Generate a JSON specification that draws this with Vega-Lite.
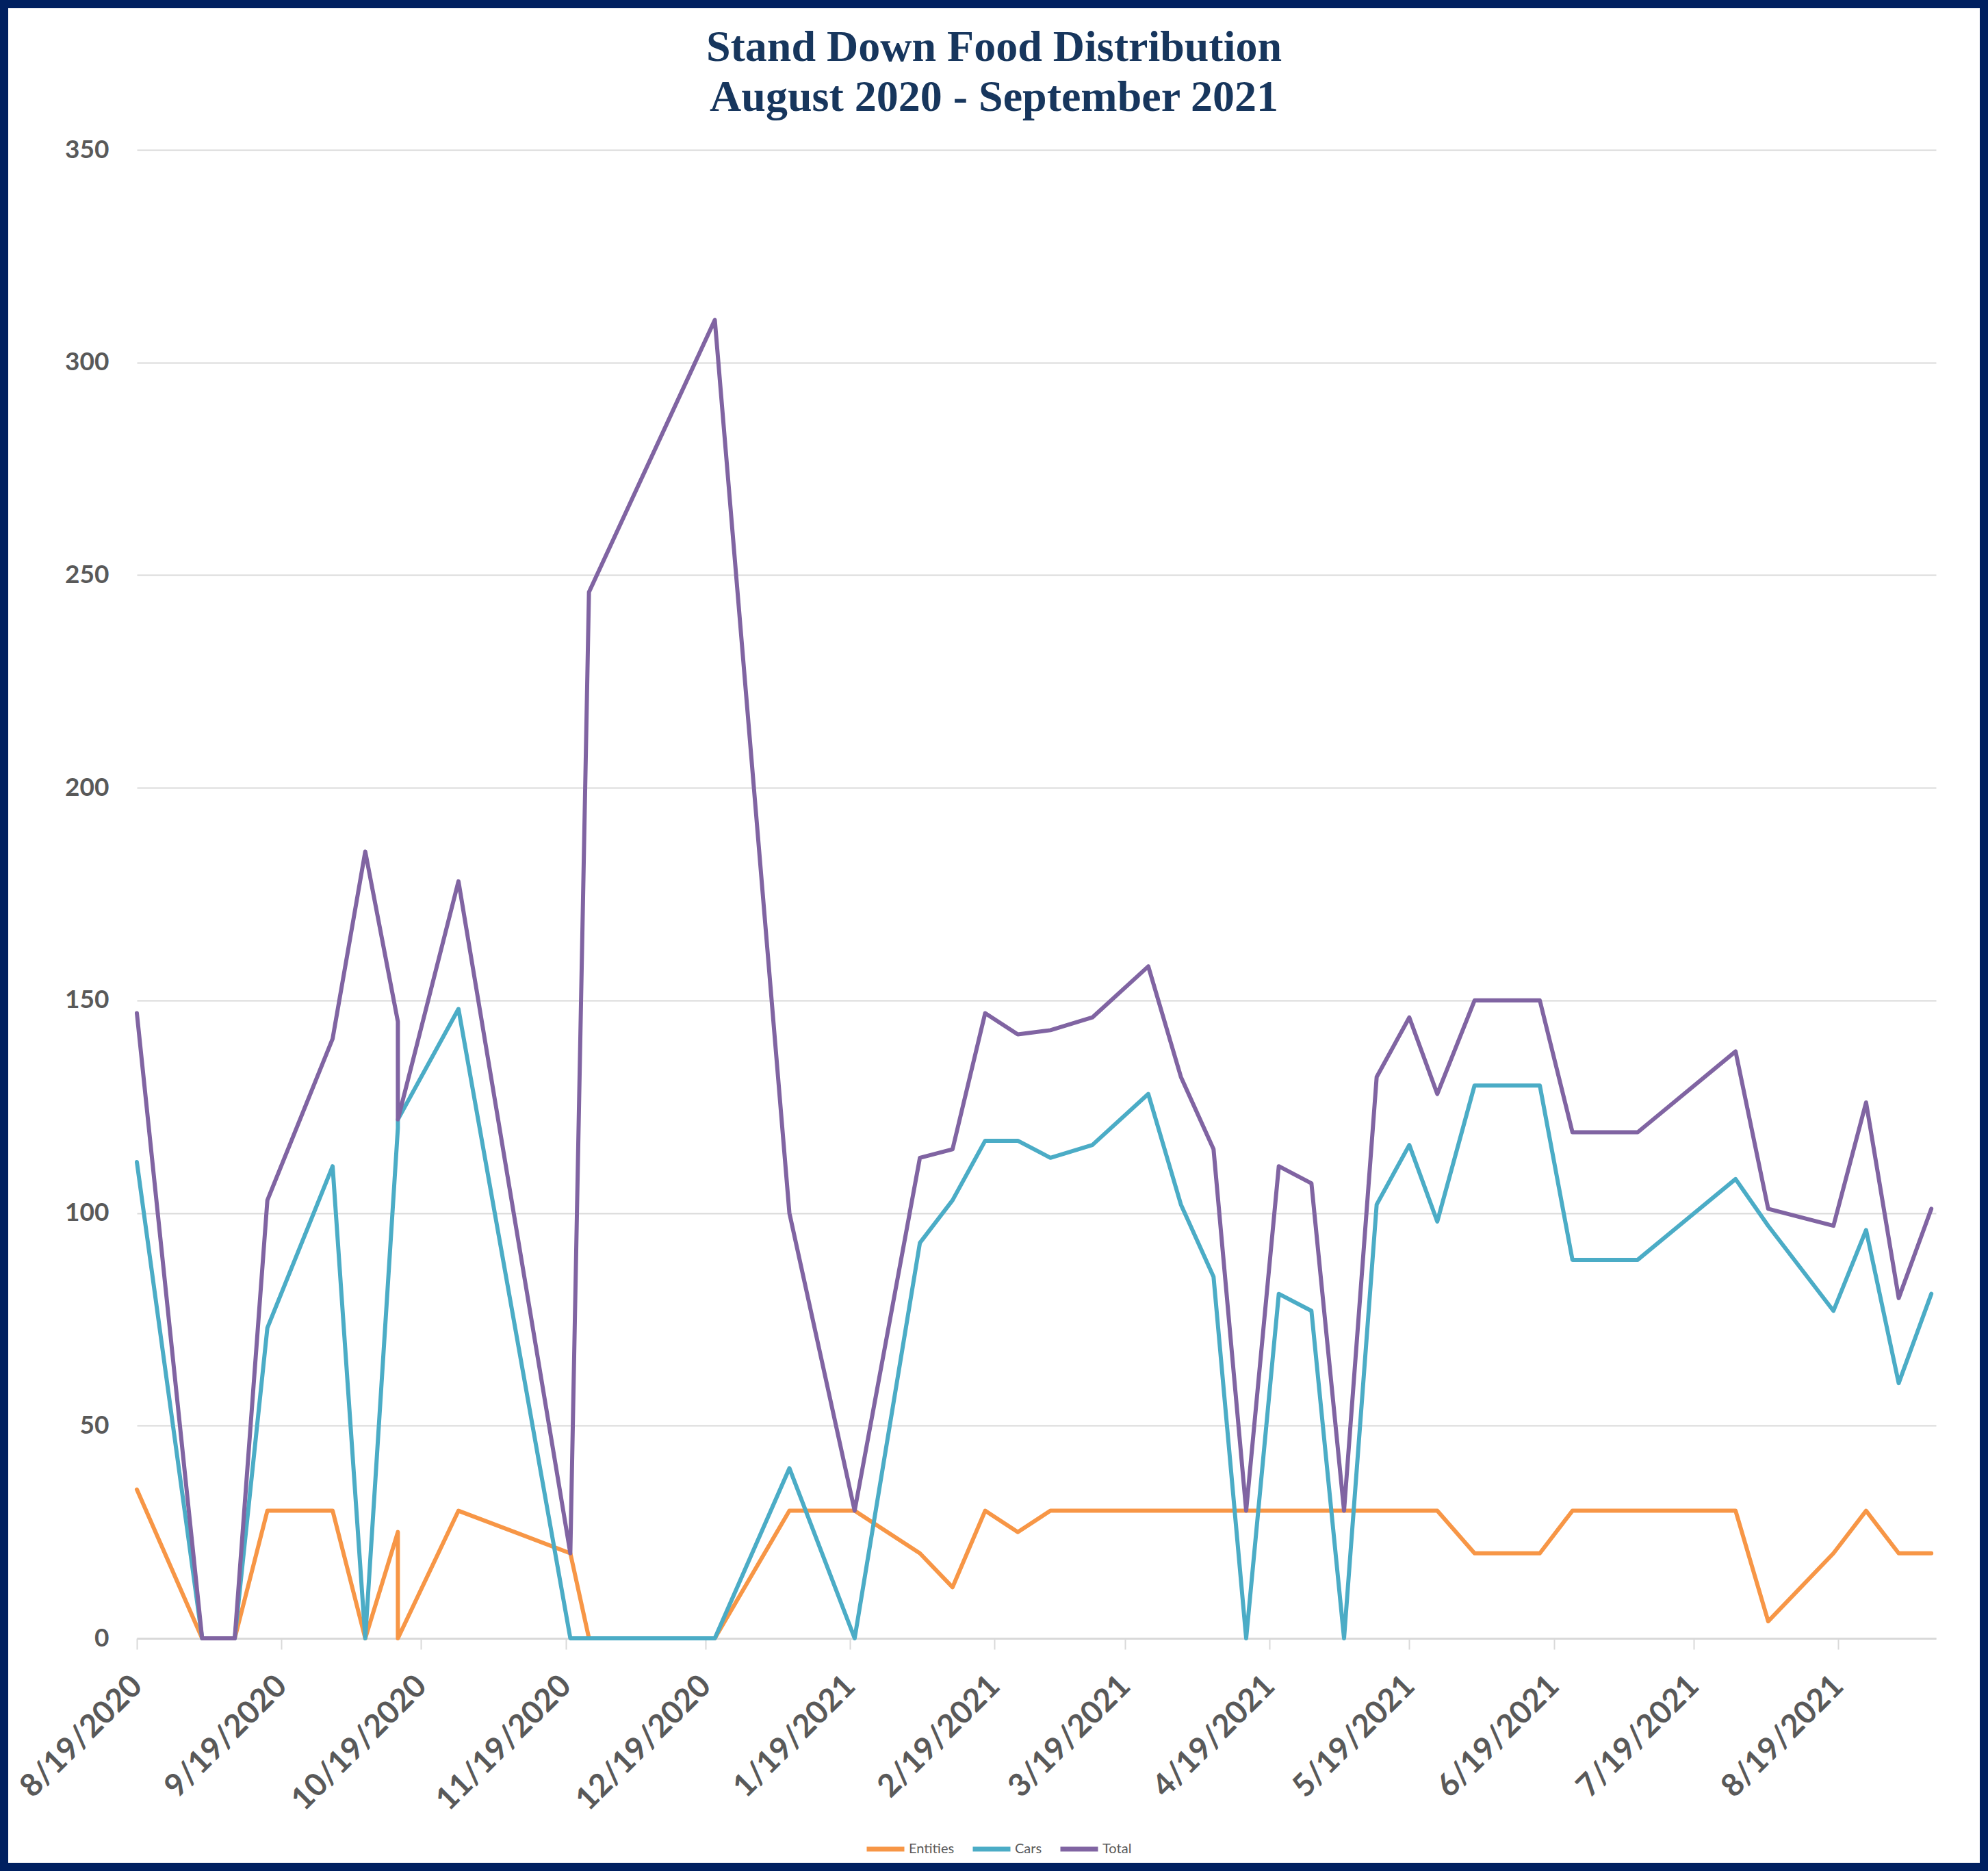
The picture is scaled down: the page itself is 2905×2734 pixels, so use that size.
{
  "$schema": "https://vega.github.io/schema/vega-lite/v6.json",
  "width": 2905,
  "height": 2734,
  "autosize": {"type": "none"},
  "padding": 0,
  "background": "white",
  "title": {
    "text": ["Stand Down Food Distribution", "August 2020 - September 2021"],
    "font": "Liberation Serif",
    "fontSize": 64,
    "fontWeight": "bold",
    "color": "#17365D",
    "lineHeight": 73,
    "anchor": "middle",
    "frame": "group",
    "orient": "top",
    "offset": -175
  },
  "config": {
    "view": {"stroke": "#002060", "strokeWidth": 24, "fill": "white"}
  },
  "data": {
    "values": [
      {"i":1,"d":"2020-08-19","s":"Entities","v":35},{"i":1,"d":"2020-08-19","s":"Cars","v":112},{"i":1,"d":"2020-08-19","s":"Total","v":147},
      {"i":2,"d":"2020-09-02","s":"Entities","v":0},{"i":2,"d":"2020-09-02","s":"Cars","v":0},{"i":2,"d":"2020-09-02","s":"Total","v":0},
      {"i":3,"d":"2020-09-09","s":"Entities","v":0},{"i":3,"d":"2020-09-09","s":"Cars","v":0},{"i":3,"d":"2020-09-09","s":"Total","v":0},
      {"i":4,"d":"2020-09-16","s":"Entities","v":30},{"i":4,"d":"2020-09-16","s":"Cars","v":73},{"i":4,"d":"2020-09-16","s":"Total","v":103},
      {"i":5,"d":"2020-09-30","s":"Entities","v":30},{"i":5,"d":"2020-09-30","s":"Cars","v":111},{"i":5,"d":"2020-09-30","s":"Total","v":141},
      {"i":6,"d":"2020-10-07","s":"Entities","v":0},{"i":6,"d":"2020-10-07","s":"Cars","v":0},{"i":6,"d":"2020-10-07","s":"Total","v":185},
      {"i":7,"d":"2020-10-14","s":"Entities","v":25},{"i":7,"d":"2020-10-14","s":"Cars","v":120},{"i":7,"d":"2020-10-14","s":"Total","v":145},
      {"i":8,"d":"2020-10-14","s":"Entities","v":0},{"i":8,"d":"2020-10-14","s":"Cars","v":122},{"i":8,"d":"2020-10-14","s":"Total","v":122},
      {"i":9,"d":"2020-10-27","s":"Entities","v":30},{"i":9,"d":"2020-10-27","s":"Cars","v":148},{"i":9,"d":"2020-10-27","s":"Total","v":178},
      {"i":10,"d":"2020-11-20","s":"Entities","v":20},{"i":10,"d":"2020-11-20","s":"Cars","v":0},{"i":10,"d":"2020-11-20","s":"Total","v":20},
      {"i":11,"d":"2020-11-24","s":"Entities","v":0},{"i":11,"d":"2020-11-24","s":"Cars","v":0},{"i":11,"d":"2020-11-24","s":"Total","v":246},
      {"i":12,"d":"2020-12-21","s":"Entities","v":0},{"i":12,"d":"2020-12-21","s":"Cars","v":0},{"i":12,"d":"2020-12-21","s":"Total","v":310},
      {"i":13,"d":"2021-01-06","s":"Entities","v":30},{"i":13,"d":"2021-01-06","s":"Cars","v":40},{"i":13,"d":"2021-01-06","s":"Total","v":100},
      {"i":14,"d":"2021-01-20","s":"Entities","v":30},{"i":14,"d":"2021-01-20","s":"Cars","v":0},{"i":14,"d":"2021-01-20","s":"Total","v":30},
      {"i":15,"d":"2021-02-03","s":"Entities","v":20},{"i":15,"d":"2021-02-03","s":"Cars","v":93},{"i":15,"d":"2021-02-03","s":"Total","v":113},
      {"i":16,"d":"2021-02-10","s":"Entities","v":12},{"i":16,"d":"2021-02-10","s":"Cars","v":103},{"i":16,"d":"2021-02-10","s":"Total","v":115},
      {"i":17,"d":"2021-02-17","s":"Entities","v":30},{"i":17,"d":"2021-02-17","s":"Cars","v":117},{"i":17,"d":"2021-02-17","s":"Total","v":147},
      {"i":18,"d":"2021-02-24","s":"Entities","v":25},{"i":18,"d":"2021-02-24","s":"Cars","v":117},{"i":18,"d":"2021-02-24","s":"Total","v":142},
      {"i":19,"d":"2021-03-03","s":"Entities","v":30},{"i":19,"d":"2021-03-03","s":"Cars","v":113},{"i":19,"d":"2021-03-03","s":"Total","v":143},
      {"i":20,"d":"2021-03-12","s":"Entities","v":30},{"i":20,"d":"2021-03-12","s":"Cars","v":116},{"i":20,"d":"2021-03-12","s":"Total","v":146},
      {"i":21,"d":"2021-03-24","s":"Entities","v":30},{"i":21,"d":"2021-03-24","s":"Cars","v":128},{"i":21,"d":"2021-03-24","s":"Total","v":158},
      {"i":22,"d":"2021-03-31","s":"Entities","v":30},{"i":22,"d":"2021-03-31","s":"Cars","v":102},{"i":22,"d":"2021-03-31","s":"Total","v":132},
      {"i":23,"d":"2021-04-07","s":"Entities","v":30},{"i":23,"d":"2021-04-07","s":"Cars","v":85},{"i":23,"d":"2021-04-07","s":"Total","v":115},
      {"i":24,"d":"2021-04-14","s":"Entities","v":30},{"i":24,"d":"2021-04-14","s":"Cars","v":0},{"i":24,"d":"2021-04-14","s":"Total","v":30},
      {"i":25,"d":"2021-04-21","s":"Entities","v":30},{"i":25,"d":"2021-04-21","s":"Cars","v":81},{"i":25,"d":"2021-04-21","s":"Total","v":111},
      {"i":26,"d":"2021-04-28","s":"Entities","v":30},{"i":26,"d":"2021-04-28","s":"Cars","v":77},{"i":26,"d":"2021-04-28","s":"Total","v":107},
      {"i":27,"d":"2021-05-05","s":"Entities","v":30},{"i":27,"d":"2021-05-05","s":"Cars","v":0},{"i":27,"d":"2021-05-05","s":"Total","v":30},
      {"i":28,"d":"2021-05-12","s":"Entities","v":30},{"i":28,"d":"2021-05-12","s":"Cars","v":102},{"i":28,"d":"2021-05-12","s":"Total","v":132},
      {"i":29,"d":"2021-05-19","s":"Entities","v":30},{"i":29,"d":"2021-05-19","s":"Cars","v":116},{"i":29,"d":"2021-05-19","s":"Total","v":146},
      {"i":30,"d":"2021-05-25","s":"Entities","v":30},{"i":30,"d":"2021-05-25","s":"Cars","v":98},{"i":30,"d":"2021-05-25","s":"Total","v":128},
      {"i":31,"d":"2021-06-02","s":"Entities","v":20},{"i":31,"d":"2021-06-02","s":"Cars","v":130},{"i":31,"d":"2021-06-02","s":"Total","v":150},
      {"i":32,"d":"2021-06-16","s":"Entities","v":20},{"i":32,"d":"2021-06-16","s":"Cars","v":130},{"i":32,"d":"2021-06-16","s":"Total","v":150},
      {"i":33,"d":"2021-06-23","s":"Entities","v":30},{"i":33,"d":"2021-06-23","s":"Cars","v":89},{"i":33,"d":"2021-06-23","s":"Total","v":119},
      {"i":34,"d":"2021-07-07","s":"Entities","v":30},{"i":34,"d":"2021-07-07","s":"Cars","v":89},{"i":34,"d":"2021-07-07","s":"Total","v":119},
      {"i":35,"d":"2021-07-28","s":"Entities","v":30},{"i":35,"d":"2021-07-28","s":"Cars","v":108},{"i":35,"d":"2021-07-28","s":"Total","v":138},
      {"i":36,"d":"2021-08-04","s":"Entities","v":4},{"i":36,"d":"2021-08-04","s":"Cars","v":97},{"i":36,"d":"2021-08-04","s":"Total","v":101},
      {"i":37,"d":"2021-08-18","s":"Entities","v":20},{"i":37,"d":"2021-08-18","s":"Cars","v":77},{"i":37,"d":"2021-08-18","s":"Total","v":97},
      {"i":38,"d":"2021-08-25","s":"Entities","v":30},{"i":38,"d":"2021-08-25","s":"Cars","v":96},{"i":38,"d":"2021-08-25","s":"Total","v":126},
      {"i":39,"d":"2021-09-01","s":"Entities","v":20},{"i":39,"d":"2021-09-01","s":"Cars","v":60},{"i":39,"d":"2021-09-01","s":"Total","v":80},
      {"i":40,"d":"2021-09-08","s":"Entities","v":20},{"i":40,"d":"2021-09-08","s":"Cars","v":81},{"i":40,"d":"2021-09-08","s":"Total","v":101}
    ]
  },
  "mark": {"type": "line", "strokeWidth": 6, "strokeJoin": "round", "strokeCap": "round"},
  "encoding": {
    "x": {
      "field": "d",
      "type": "temporal",
      "scale": {
        "type": "utc",
        "domain": [{"year": 2020, "month": 8, "date": 19, "utc": true}, {"year": 2021, "month": 9, "date": 9, "utc": true}],
        "range": [200, 2829]
      },
      "axis": {
        "orient": "bottom",
        "offset": -340,
        "values": [
          {"year": 2020, "month": 8, "date": 19, "utc": true},
          {"year": 2020, "month": 9, "date": 19, "utc": true},
          {"year": 2020, "month": 10, "date": 19, "utc": true},
          {"year": 2020, "month": 11, "date": 19, "utc": true},
          {"year": 2020, "month": 12, "date": 19, "utc": true},
          {"year": 2021, "month": 1, "date": 19, "utc": true},
          {"year": 2021, "month": 2, "date": 19, "utc": true},
          {"year": 2021, "month": 3, "date": 19, "utc": true},
          {"year": 2021, "month": 4, "date": 19, "utc": true},
          {"year": 2021, "month": 5, "date": 19, "utc": true},
          {"year": 2021, "month": 6, "date": 19, "utc": true},
          {"year": 2021, "month": 7, "date": 19, "utc": true},
          {"year": 2021, "month": 8, "date": 19, "utc": true}
        ],
        "format": "%-m/%-d/%Y",
        "labelAngle": -45,
        "labelAlign": "right",
        "labelBaseline": "middle",
        "labelFont": "Lato",
        "labelFontSize": 46,
        "labelFontWeight": "bold",
        "labelColor": "#595959",
        "labelPadding": 46,
        "labelLimit": 1000,
        "labelOverlap": false,
        "labelFlush": false,
        "labelBound": false,
        "tickSize": 16,
        "tickColor": "#D9D9D9",
        "tickWidth": 2,
        "domainColor": "#D9D9D9",
        "domainWidth": 3,
        "grid": false,
        "title": null
      }
    },
    "y": {
      "field": "v",
      "type": "quantitative",
      "scale": {"domain": [0, 350], "range": [2394, 219], "nice": false},
      "axis": {
        "orient": "left",
        "offset": -200,
        "values": [0, 50, 100, 150, 200, 250, 300, 350],
        "domain": false,
        "ticks": false,
        "labelPadding": 41,
        "labelFont": "Lato",
        "labelFontSize": 37,
        "labelFontWeight": "bold",
        "labelColor": "#595959",
        "grid": true,
        "gridColor": "#D9D9D9",
        "gridWidth": 2,
        "title": null
      }
    },
    "color": {
      "field": "s",
      "type": "nominal",
      "scale": {"domain": ["Entities", "Cars", "Total"], "range": ["#F79646", "#4BACC6", "#8064A2"]},
      "legend": {
        "orient": "none",
        "legendX": 1263,
        "legendY": 2671,
        "direction": "horizontal",
        "title": null,
        "symbolType": "stroke",
        "symbolSize": 3025,
        "symbolStrokeWidth": 7,
        "labelFont": "Lato",
        "labelFontSize": 20,
        "labelColor": "#595959",
        "labelOffset": 3,
        "columnPadding": 12,
        "padding": 0
      }
    },
    "order": {"field": "i", "type": "quantitative"}
  }
}
